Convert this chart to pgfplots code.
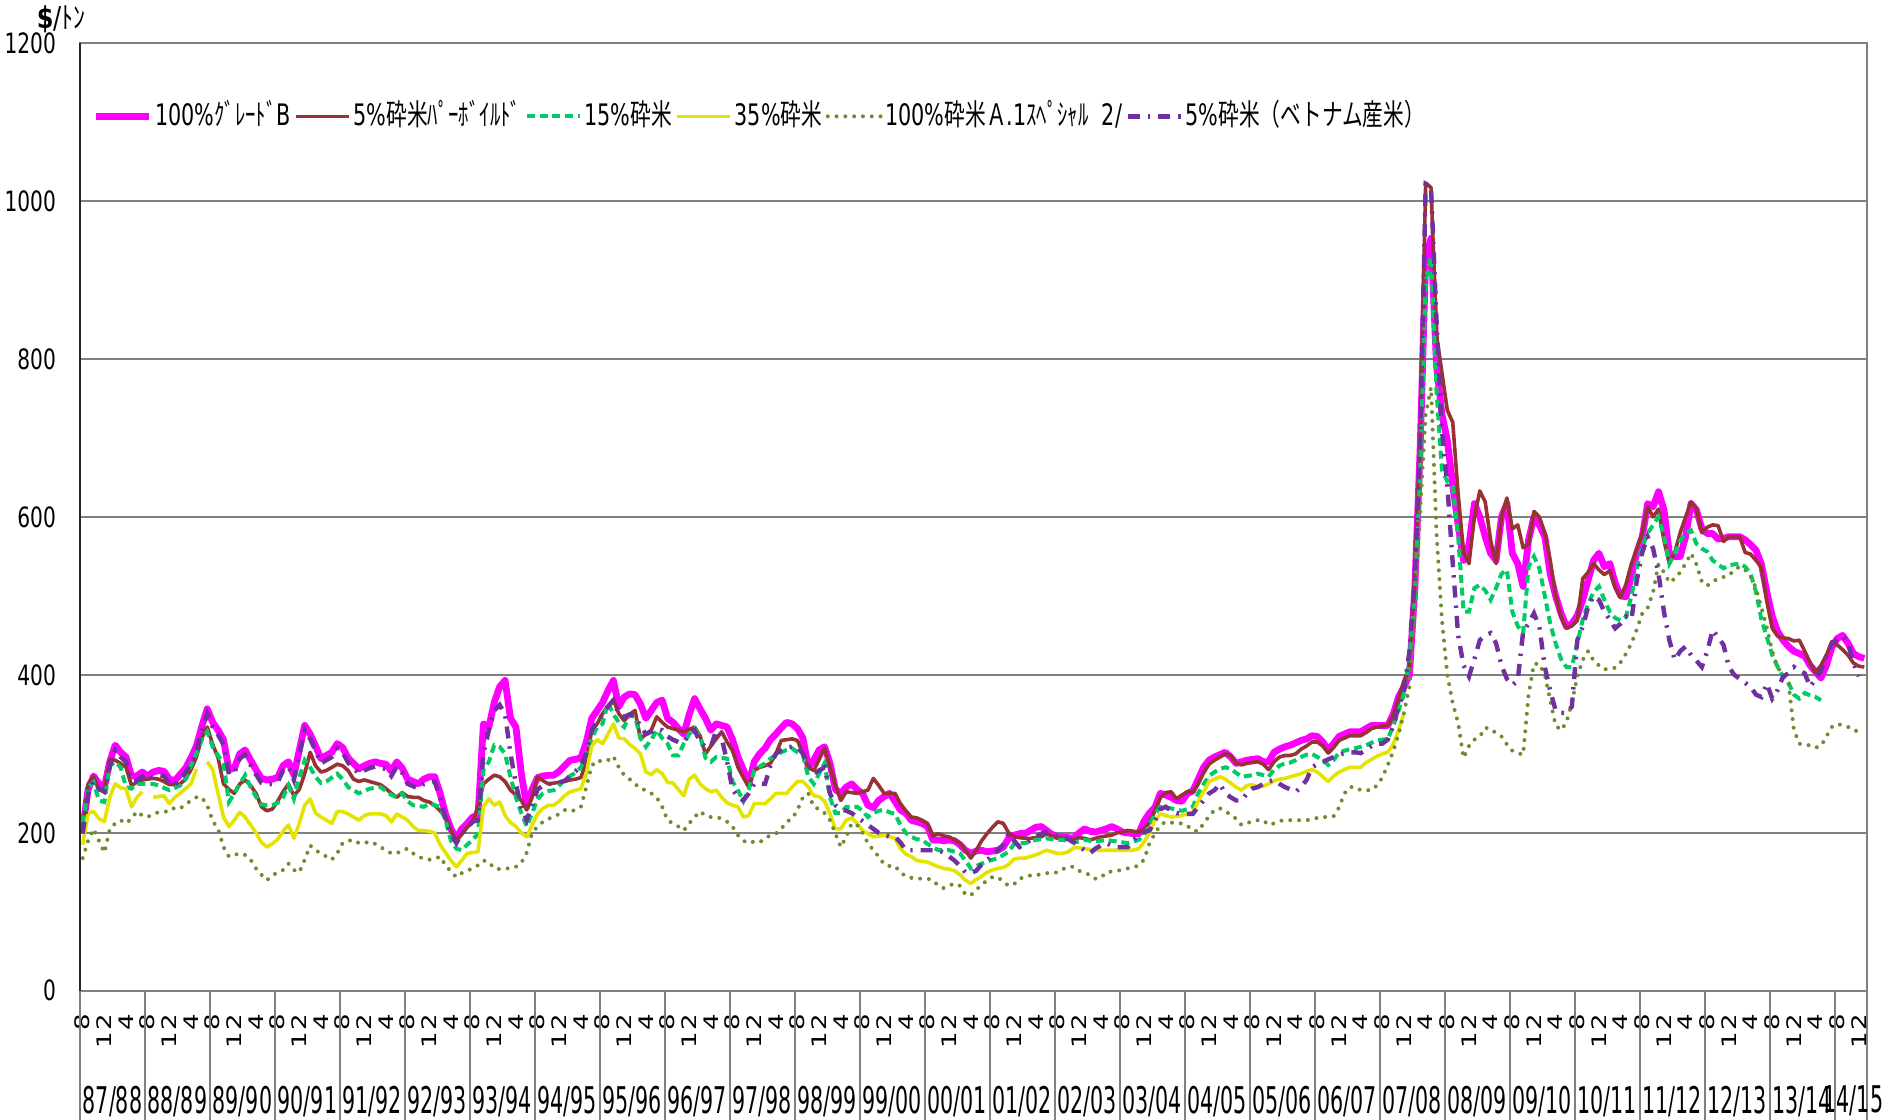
\documentclass[border=0pt]{standalone}
\usepackage{pgfplots}
\pgfplotsset{compat=1.18}
\usepackage{pgfplotstable}
\usepackage{graphicx}
\usepackage{fontspec}
\setmainfont{DejaVu Sans}
\newfontfamily\jp{Noto Sans CJK JP}

\definecolor{cB}{RGB}{255,0,255}
\definecolor{cP}{RGB}{153,51,51}
\definecolor{cG}{RGB}{0,204,102}
\definecolor{cY}{RGB}{228,228,0}
\definecolor{cA}{RGB}{112,140,48}
\definecolor{cV}{RGB}{112,48,160}
\definecolor{gridc}{RGB}{128,128,128}

\newcommand\legtxt[1]{\scalebox{0.70}[1]{#1}}
\newcommand\yrlab[1]{\scalebox{0.56}[1]{#1}}
\newcommand\tsb[1]{\scalebox{1.3}[1]{#1}\hspace*{4.5pt}}

\pgfplotstableread{
x B P G Y A V
0 205 210 212 185 168 199
1 255 262 258 225 190 249
2 272 271 264 227 205 266
3 262 254 241 218 190 256
4 258 254 239 214 175 252
5 290 293 285 245 205 284
6 311 292 290 262 212 305
7 302 288 283 257 216 296
8 296 283 258 256 212 290
9 272 260 256 233 218 266
10 272 264 262 245 227 266
11 277 267 262 252 222 271
12 272 268 262 nan 220 266
13 277 269 262 245 224 271
14 279 268 260 246 226 273
15 278 265 257 247 227 272
16 268 261 254 237 227 262
17 266 261 257 245 232 260
18 274 262 260 250 231 268
19 282 268 268 256 236 276
20 295 280 285 262 241 289
21 310 296 300 281 245 304
22 335 320 318 nan 245 329
23 357 334 328 290 235 351
24 340 312 309 280 215 334
25 330 295 298 250 205 324
26 318 262 288 220 182 312
27 280 255 239 208 170 274
28 282 250 250 216 172 276
29 300 262 262 226 174 294
30 305 267 273 220 172 299
31 292 260 258 210 166 286
32 280 250 246 200 155 274
33 269 233 236 188 147 263
34 267 228 235 182 140 261
35 268 230 235 186 146 262
36 270 240 238 192 150 264
37 285 252 245 202 153 279
38 290 262 260 210 161 284
39 273 247 243 193 153 267
40 305 255 270 212 150 299
41 336 275 292 235 166 330
42 325 302 283 243 184 319
43 310 285 271 225 178 304
44 294 277 263 220 174 288
45 298 279 265 216 170 292
46 302 283 270 212 166 296
47 313 287 275 227 174 307
48 308 285 268 227 187 302
49 295 279 258 224 190 289
50 288 268 254 220 191 282
51 281 265 250 216 187 275
52 285 267 253 222 187 279
53 288 265 256 224 189 282
54 290 263 257 224 186 284
55 288 261 258 224 182 282
56 287 256 253 222 178 281
57 278 250 248 214 174 272
58 290 245 245 224 174 284
59 282 251 250 220 178 276
60 268 246 240 216 180 262
61 265 245 235 208 174 259
62 262 245 234 203 170 256
63 268 241 233 203 167 262
64 271 239 237 202 166 265
65 271 235 235 200 167 265
66 250 228 233 185 170 244
67 224 220 216 175 159 218
68 205 203 190 165 151 199
69 193 190 180 157 144 187
70 205 198 178 165 149 199
71 212 207 185 174 152 206
72 220 214 191 175 155 214
73 222 233 199 176 159 216
74 338 262 280 233 165 300
75 334 268 290 243 163 330
76 365 273 311 235 155 355
77 385 271 309 239 154 362
78 393 265 300 222 155 350
79 345 254 271 213 155 300
80 334 248 245 208 157 262
81 275 241 225 200 162 232
82 233 229 208 195 175 216
83 255 245 225 210 200 235
84 270 271 243 224 208 255
85 272 266 250 231 214 260
86 273 262 253 235 218 262
87 273 263 254 235 220 262
88 278 264 260 240 224 264
89 285 265 267 247 229 266
90 292 267 272 252 227 272
91 293 268 276 254 229 278
92 295 270 283 256 233 285
93 315 290 300 275 258 300
94 345 330 320 310 285 330
95 355 338 334 318 292 340
96 365 351 338 313 290 350
97 380 360 365 325 292 360
98 393 368 350 338 297 368
99 360 351 340 320 283 350
100 372 342 334 319 273 347
101 376 350 349 312 268 350
102 375 355 347 307 262 348
103 363 319 320 300 256 335
104 345 325 309 277 254 325
105 355 330 318 274 250 328
106 365 347 330 280 245 332
107 368 340 320 275 233 330
108 345 334 313 264 216 322
109 340 332 298 263 212 318
110 332 330 298 255 208 315
111 325 328 313 247 203 315
112 350 331 325 268 212 325
113 370 334 332 273 220 330
114 357 323 323 262 227 315
115 345 300 295 256 222 309
116 330 310 290 252 220 309
117 338 319 296 254 220 330
118 336 328 295 245 218 320
119 334 315 294 238 214 290
120 318 304 265 235 208 255
121 296 283 254 233 197 245
122 280 270 240 220 190 241
123 262 258 255 222 187 250
124 290 279 279 237 189 262
125 300 283 284 237 188 262
126 307 285 288 237 193 262
127 318 288 294 243 197 285
128 325 300 299 250 199 300
129 333 317 302 250 205 305
130 340 318 305 250 214 308
131 338 319 307 258 218 309
132 332 317 302 265 229 309
133 320 300 298 265 245 300
134 283 283 271 258 250 285
135 292 279 262 247 233 275
136 305 293 275 246 230 279
137 309 307 288 240 225 283
138 288 283 245 224 216 250
139 255 260 225 205 199 235
140 250 241 225 205 182 230
141 258 252 233 216 195 228
142 262 251 233 219 212 225
143 255 250 233 212 210 220
144 250 252 228 203 200 215
145 235 254 220 199 187 210
146 232 269 225 195 178 205
147 241 260 228 196 170 200
148 246 250 229 197 160 198
149 250 250 226 195 158 195
150 240 250 224 193 158 195
151 229 237 210 180 150 188
152 225 228 200 173 145 178
153 216 220 195 170 143 178
154 214 219 192 165 142 178
155 212 216 191 164 142 178
156 208 212 186 163 142 178
157 191 196 182 160 140 178
158 191 199 178 157 133 178
159 190 196 178 155 130 175
160 191 195 178 154 133 170
161 190 191 176 152 136 165
162 185 187 174 147 133 158
163 178 178 165 140 122 150
164 174 168 155 136 121 149
165 177 178 158 141 128 152
166 178 190 161 145 134 160
167 176 199 164 150 140 165
168 177 207 166 153 144 172
169 178 214 168 155 144 178
170 182 212 172 156 138 185
171 193 200 176 160 133 199
172 197 195 186 167 135 190
173 199 194 187 168 142 182
174 199 193 187 168 144 186
175 203 193 189 170 146 191
176 207 194 191 172 147 195
177 208 195 192 175 147 199
178 203 199 193 178 149 201
179 198 196 192 176 149 198
180 195 194 191 174 150 196
181 195 193 191 174 154 195
182 194 192 190 176 157 192
183 193 191 188 181 157 188
184 200 194 189 181 152 183
185 205 193 191 180 149 178
186 202 191 190 179 147 174
187 201 193 189 178 142 180
188 203 195 190 178 143 184
189 205 196 191 178 150 187
190 208 197 190 178 151 184
191 205 200 189 178 152 182
192 201 201 188 178 153 182
193 200 203 187 178 155 182
194 199 202 189 178 156 190
195 199 201 191 180 159 198
196 215 205 197 188 166 201
197 225 213 210 200 187 203
198 232 228 224 216 199 215
199 250 245 233 224 210 230
200 248 251 232 222 214 233
201 245 252 231 220 213 228
202 241 243 229 221 212 225
203 240 248 228 222 212 224
204 250 252 230 224 209 224
205 253 252 233 226 203 224
206 268 262 250 240 202 233
207 283 276 262 252 212 241
208 292 287 272 265 221 250
209 296 292 277 268 229 254
210 299 296 281 271 231 262
211 302 300 283 268 228 250
212 296 298 281 263 222 245
213 288 288 276 258 218 241
214 290 286 271 254 210 241
215 292 288 272 260 212 250
216 293 289 273 261 215 256
217 294 290 275 258 216 258
218 290 287 273 259 216 262
219 290 280 271 262 210 265
220 302 290 280 266 212 267
221 306 296 285 268 215 262
222 309 298 288 269 216 258
223 311 298 289 271 216 255
224 314 300 292 273 216 252
225 317 306 296 275 216 258
226 319 310 299 278 216 267
227 323 315 300 280 217 283
228 322 315 296 277 219 287
229 315 310 292 271 220 290
230 305 301 286 265 220 293
231 313 308 292 272 221 296
232 322 317 302 277 232 299
233 325 320 304 280 250 301
234 328 323 306 283 258 302
235 328 323 307 283 258 302
236 328 323 309 283 254 301
237 332 327 311 289 254 305
238 336 332 314 293 254 310
239 336 334 317 297 260 313
240 336 335 318 300 270 313
241 336 336 319 302 286 318
242 350 348 335 312 303 335
243 372 370 355 330 325 360
244 385 393 376 352 352 380
245 400 410 420 nan 385 430
246 510 530 500 nan 480 520
247 690 700 660 nan 610 700
248 930 1023 900 nan 730 1021
249 953 1017 930 nan 764 1015
250 793 831 760 nan 580 850
251 730 783 660 nan 470 710
252 697 735 645 nan 400 640
253 640 720 638 nan 364 541
254 590 629 575 nan 339 450
255 545 555 480 nan 295 412
256 565 541 480 nan 310 398
257 617 600 510 nan 318 420
258 600 633 514 nan 322 444
259 575 619 507 nan 333 450
260 554 570 495 nan 332 453
261 545 541 510 nan 326 440
262 600 600 528 nan 322 412
263 617 624 533 nan 312 395
264 554 585 480 nan 304 387
265 541 590 462 nan 301 393
266 512 561 453 nan 299 455
267 571 566 537 nan 375 465
268 600 607 550 nan 414 478
269 590 600 535 nan 414 461
270 575 580 500 nan 400 410
271 528 545 465 nan 368 380
272 500 500 440 nan 336 355
273 478 473 420 nan 330 352
274 461 459 410 nan 340 352
275 465 462 410 nan 365 360
276 475 469 440 nan 398 444
277 495 522 470 nan 419 461
278 520 530 490 nan 430 486
279 545 541 505 nan 418 500
280 554 533 512 nan 412 495
281 537 527 495 nan 407 480
282 541 532 480 nan 408 470
283 516 510 472 nan 409 459
284 500 498 469 nan 416 465
285 499 515 474 nan 427 474
286 525 541 500 nan 440 470
287 555 560 535 nan 458 520
288 575 580 562 nan 478 555
289 617 613 579 nan 485 575
290 613 600 590 nan 505 560
291 632 610 600 nan 540 528
292 609 570 575 nan 530 480
293 554 541 541 nan 517 444
294 550 555 554 nan 522 419
295 550 580 570 nan 530 430
296 575 600 580 nan 541 436
297 617 619 583 nan 554 425
298 609 610 566 nan 540 418
299 585 580 560 nan 518 410
300 579 587 556 nan 513 430
301 579 590 545 nan 518 457
302 572 589 540 nan 522 448
303 573 569 535 nan 524 438
304 575 575 539 nan 526 410
305 575 575 540 nan 533 400
306 575 575 541 nan 537 395
307 571 555 537 nan 533 390
308 565 553 528 nan 525 385
309 558 545 505 nan 510 375
310 540 536 470 nan 485 372
311 505 493 448 nan 460 389
312 474 459 425 nan 430 370
313 455 449 410 nan 410 381
314 444 447 398 nan 398 398
315 436 446 390 nan 390 402
316 430 443 375 nan 330 410
317 427 444 370 nan 313 405
318 424 430 377 nan 311 402
319 412 415 374 nan 311 385
320 404 403 372 nan 308 395
321 396 412 368 nan 310 405
322 412 425 nan nan 322 425
323 435 442 nan nan 334 440
324 446 438 nan nan 338 445
325 450 432 nan nan 336 449
326 440 425 nan nan 334 440
327 427 415 nan nan 332 415
328 423 411 nan nan 326 398
329 421 410 nan nan nan nan
}\data

\begin{document}
\begin{tikzpicture}
\useasboundingbox (-20pt,-32.08pt) rectangle (450.75pt,247.7pt);
\begin{axis}[
  at={(0,0)}, anchor=south west,
  scale only axis, width=446.75pt, height=236.9pt,
  xmin=-0.5, xmax=329.5, ymin=0, ymax=1200,
  clip=false,
  unbounded coords=jump,
  /pgf/number format/assume math mode=true,
  /pgf/number format/1000 sep={},
  ytick={0,200,...,1200},
  ymajorgrids=true,
  major grid style={draw=gridc, line width=0.55pt},
  axis line style={draw=gridc, line width=0.6pt},
  major tick length=0pt,
  xtick pos=bottom, ytick pos=left,
  yticklabel style={font=\fontsize{7}{8}\selectfont, xshift=-2.5pt},
  yticklabel={\scalebox{0.72}[1]{\pgfmathprintnumber{\tick}}},
  xtick={0,4,...,328},
  xticklabels={\tsb{8},\tsb{1\kern0.3pt 2},\tsb{4},\tsb{8},\tsb{1\kern0.3pt 2},\tsb{4},\tsb{8},\tsb{1\kern0.3pt 2},\tsb{4},\tsb{8},\tsb{1\kern0.3pt 2},\tsb{4},\tsb{8},\tsb{1\kern0.3pt 2},\tsb{4},\tsb{8},\tsb{1\kern0.3pt 2},\tsb{4},\tsb{8},\tsb{1\kern0.3pt 2},\tsb{4},\tsb{8},\tsb{1\kern0.3pt 2},\tsb{4},\tsb{8},\tsb{1\kern0.3pt 2},\tsb{4},\tsb{8},\tsb{1\kern0.3pt 2},\tsb{4},\tsb{8},\tsb{1\kern0.3pt 2},\tsb{4},\tsb{8},\tsb{1\kern0.3pt 2},\tsb{4},\tsb{8},\tsb{1\kern0.3pt 2},\tsb{4},\tsb{8},\tsb{1\kern0.3pt 2},\tsb{4},\tsb{8},\tsb{1\kern0.3pt 2},\tsb{4},\tsb{8},\tsb{1\kern0.3pt 2},\tsb{4},\tsb{8},\tsb{1\kern0.3pt 2},\tsb{4},\tsb{8},\tsb{1\kern0.3pt 2},\tsb{4},\tsb{8},\tsb{1\kern0.3pt 2},\tsb{4},\tsb{8},\tsb{1\kern0.3pt 2},\tsb{4},\tsb{8},\tsb{1\kern0.3pt 2},\tsb{4},\tsb{8},\tsb{1\kern0.3pt 2},\tsb{4},\tsb{8},\tsb{1\kern0.3pt 2},\tsb{4},\tsb{8},\tsb{1\kern0.3pt 2},\tsb{4},\tsb{8},\tsb{1\kern0.3pt 2},\tsb{4},\tsb{8},\tsb{1\kern0.3pt 2},\tsb{4},\tsb{8},\tsb{1\kern0.3pt 2},\tsb{4},\tsb{8},\tsb{1\kern0.3pt 2},\tsb{4},\tsb{8},\tsb{1\kern0.3pt 2},\tsb{4},\tsb{8},\tsb{1\kern0.3pt 2},\tsb{4},\tsb{8},\tsb{1\kern0.3pt 2},\tsb{4},\tsb{8},\tsb{1\kern0.3pt 2}},
  xticklabel style={rotate=90, anchor=east, font=\fontsize{5}{6}\selectfont, inner xsep=1pt, inner ysep=0.3pt},
  extra x ticks={-0.5,11.5,...,323.5,329.5},
  extra x tick style={grid=none, major tick length=33pt, tick align=outside, xticklabel={}, major tick style={draw=gridc, line width=0.5pt}},
  legend columns=-1,
  legend style={at={(0,0.9228)}, anchor=west, xshift=3pt, draw=none, fill=none, inner sep=0pt,
    font=\fontsize{7.4}{8}\selectfont, nodes={inner sep=0.5pt},
    /tikz/every odd column/.append style={column sep=0.2pt},
    /tikz/every even column/.append style={column sep=0.4pt}},
  legend image code/.code={\draw[#1] (0pt,0pt) -- (13.2pt,0pt);},
]
\addplot[cB, line width=1.7pt, line join=round] table[x=x,y=B]{\data};
\addlegendentry{\legtxt{100\%{\jp ｸﾞﾚｰﾄﾞ}B}}
\addplot[cP, line width=0.9pt, line join=round] table[x=x,y=P]{\data};
\addlegendentry{\legtxt{5\%{\jp 砕米ﾊﾟｰﾎﾞｲﾙﾄﾞ}}}
\addplot[cG, line width=1pt, dash pattern=on 2pt off 1.2pt] table[x=x,y=G]{\data};
\addlegendentry{\legtxt{15\%{\jp 砕米}}}
\addplot[cY, line width=0.9pt, line join=round] table[x=x,y=Y]{\data};
\addlegendentry{\legtxt{35\%{\jp 砕米}}}
\addplot[cA, line width=1pt, line cap=round, dash pattern=on 0pt off 2.2pt] table[x=x,y=A]{\data};
\addlegendentry{\legtxt{100\%{\jp 砕米Ａ}.1{\jp ｽﾍﾟｼｬﾙ}\ \ 2/}}
\addplot[cV, line width=1.1pt, dash pattern=on 3pt off 2pt on 0.6pt off 2pt] table[x=x,y=V]{\data};
\addlegendentry{\legtxt{5\%{\jp 砕米（ベトナム産米）}}}

\draw[black!85, line width=0.55pt] (rel axis cs:0,0) -- (rel axis cs:0,1);
\node[anchor=west, font=\fontsize{7.5}{8}\selectfont, inner sep=0pt] at (rel axis cs:0,1) [xshift=-11pt, yshift=6pt] {\scalebox{0.8}[1]{\textbf{\$}/{\jp ﾄﾝ}}};

\node[font=\fontsize{9.2}{10}\selectfont] at (axis cs:5.5,0) [yshift=-27.6pt] {\yrlab{87/88}};
\node[font=\fontsize{9.2}{10}\selectfont] at (axis cs:17.5,0) [yshift=-27.6pt] {\yrlab{88/89}};
\node[font=\fontsize{9.2}{10}\selectfont] at (axis cs:29.5,0) [yshift=-27.6pt] {\yrlab{89/90}};
\node[font=\fontsize{9.2}{10}\selectfont] at (axis cs:41.5,0) [yshift=-27.6pt] {\yrlab{90/91}};
\node[font=\fontsize{9.2}{10}\selectfont] at (axis cs:53.5,0) [yshift=-27.6pt] {\yrlab{91/92}};
\node[font=\fontsize{9.2}{10}\selectfont] at (axis cs:65.5,0) [yshift=-27.6pt] {\yrlab{92/93}};
\node[font=\fontsize{9.2}{10}\selectfont] at (axis cs:77.5,0) [yshift=-27.6pt] {\yrlab{93/94}};
\node[font=\fontsize{9.2}{10}\selectfont] at (axis cs:89.5,0) [yshift=-27.6pt] {\yrlab{94/95}};
\node[font=\fontsize{9.2}{10}\selectfont] at (axis cs:101.5,0) [yshift=-27.6pt] {\yrlab{95/96}};
\node[font=\fontsize{9.2}{10}\selectfont] at (axis cs:113.5,0) [yshift=-27.6pt] {\yrlab{96/97}};
\node[font=\fontsize{9.2}{10}\selectfont] at (axis cs:125.5,0) [yshift=-27.6pt] {\yrlab{97/98}};
\node[font=\fontsize{9.2}{10}\selectfont] at (axis cs:137.5,0) [yshift=-27.6pt] {\yrlab{98/99}};
\node[font=\fontsize{9.2}{10}\selectfont] at (axis cs:149.5,0) [yshift=-27.6pt] {\yrlab{99/00}};
\node[font=\fontsize{9.2}{10}\selectfont] at (axis cs:161.5,0) [yshift=-27.6pt] {\yrlab{00/01}};
\node[font=\fontsize{9.2}{10}\selectfont] at (axis cs:173.5,0) [yshift=-27.6pt] {\yrlab{01/02}};
\node[font=\fontsize{9.2}{10}\selectfont] at (axis cs:185.5,0) [yshift=-27.6pt] {\yrlab{02/03}};
\node[font=\fontsize{9.2}{10}\selectfont] at (axis cs:197.5,0) [yshift=-27.6pt] {\yrlab{03/04}};
\node[font=\fontsize{9.2}{10}\selectfont] at (axis cs:209.5,0) [yshift=-27.6pt] {\yrlab{04/05}};
\node[font=\fontsize{9.2}{10}\selectfont] at (axis cs:221.5,0) [yshift=-27.6pt] {\yrlab{05/06}};
\node[font=\fontsize{9.2}{10}\selectfont] at (axis cs:233.5,0) [yshift=-27.6pt] {\yrlab{06/07}};
\node[font=\fontsize{9.2}{10}\selectfont] at (axis cs:245.5,0) [yshift=-27.6pt] {\yrlab{07/08}};
\node[font=\fontsize{9.2}{10}\selectfont] at (axis cs:257.5,0) [yshift=-27.6pt] {\yrlab{08/09}};
\node[font=\fontsize{9.2}{10}\selectfont] at (axis cs:269.5,0) [yshift=-27.6pt] {\yrlab{09/10}};
\node[font=\fontsize{9.2}{10}\selectfont] at (axis cs:281.5,0) [yshift=-27.6pt] {\yrlab{10/11}};
\node[font=\fontsize{9.2}{10}\selectfont] at (axis cs:293.5,0) [yshift=-27.6pt] {\yrlab{11/12}};
\node[font=\fontsize{9.2}{10}\selectfont] at (axis cs:305.5,0) [yshift=-27.6pt] {\yrlab{12/13}};
\node[font=\fontsize{9.2}{10}\selectfont] at (axis cs:317.5,0) [yshift=-27.6pt] {\yrlab{13/14}};
\node[font=\fontsize{9.2}{10}\selectfont] at (axis cs:327.0,0) [yshift=-27.6pt] {\yrlab{14/15}};
\end{axis}
\end{tikzpicture}
\end{document}
